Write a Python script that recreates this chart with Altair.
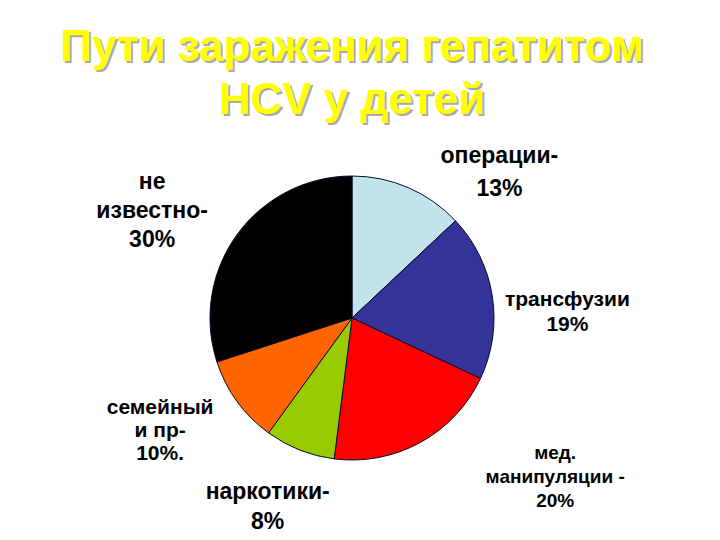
import altair as alt
import pandas as pd

categories = ["операции", "трансфузии", "мед. манипуляции", "наркотики", "семейный и пр.", "не известно"]
shares = [13, 19, 20, 8, 10, 30]
labels = ["операции-\n13%", "трансфузии\n19%", "мед.\nманипуляции -\n20%",
          "наркотики-\n8%", "семейный\nи пр-\n10%.", "не\nизвестно-\n30%"]
colors = ["#C2E4EA", "#333399", "#FF0000", "#99CC00", "#FF6600", "#000000"]
title_lines = ["Пути заражения гепатитом", "HCV у детей"]

df = pd.DataFrame({"cat": categories, "share": shares, "label": labels, "idx": list(range(len(categories)))})

CX, CY = 344, 310
FONT = "Liberation Sans"
theta_scale = alt.Scale(domain=[0, 100])

base = alt.Chart(df)
pie = base.mark_arc(outerRadius=142, stroke="#0a0a30", strokeWidth=1).encode(
    theta=alt.Theta("share:Q", stack=True, scale=theta_scale),
    color=alt.Color("cat:N", scale=alt.Scale(domain=categories, range=colors), legend=None),
    order=alt.Order("idx:Q"),
    x=alt.value(CX), y=alt.value(CY),
)

lab_base = base.transform_window(
    cum="sum(share)", sort=[alt.SortField("idx")], frame=[None, 0]
).transform_calculate(mid="datum.cum - datum.share / 2")

# label styling per category: (dx, dy, lineHeight, fontSize)
label_style = {
    "операции": (64, 31, 33, 23),
    "трансфузии": (8, 15, 25, 21),
    "мед. манипуляции": (102, -49, 24, 19),
    "наркотики": (-7, -21, 30, 23),
    "семейный и пр.": (-22, -33, 23, 21),
    "не известно": (-30, -13, 29, 23),
}

label_layers = []
for c in categories:
    dx, dy, lh, fs = label_style[c]
    label_layers.append(
        lab_base.transform_filter(alt.datum.cat == c).mark_text(
            radius=210, dx=dx, dy=dy, lineHeight=lh, fontSize=fs, font=FONT,
            fontWeight="bold", lineBreak="\n", align="center", baseline="middle",
            color="#000000",
        ).encode(
            theta=alt.Theta("mid:Q", stack=False, scale=theta_scale),
            text="label:N",
            x=alt.value(CX), y=alt.value(CY),
        )
    )

title_layers = []
for i, line in enumerate(title_lines):
    ty = 40 + i * 53
    title_layers.append(
        alt.Chart(df).transform_filter(alt.datum.idx == 0).mark_text(
            fontSize=44, font=FONT, fontWeight="bold", color="#A8A8A8",
            align="center", baseline="middle",
        ).encode(text=alt.value(line), x=alt.value(CX + 2), y=alt.value(ty + 2))
    )
    title_layers.append(
        alt.Chart(df).transform_filter(alt.datum.idx == 0).mark_text(
            fontSize=44, font=FONT, fontWeight="bold", color="#FFFF00",
            align="center", baseline="middle",
        ).encode(text=alt.value(line), x=alt.value(CX), y=alt.value(ty))
    )

chart = alt.layer(pie, *label_layers, *title_layers).properties(
    width=704, height=530, padding=0, autosize="none",
    background="#FFFFFF",
).configure_view(stroke=None)

chart.save("out.html", embed_options={"renderer": "svg", "actions": False})
